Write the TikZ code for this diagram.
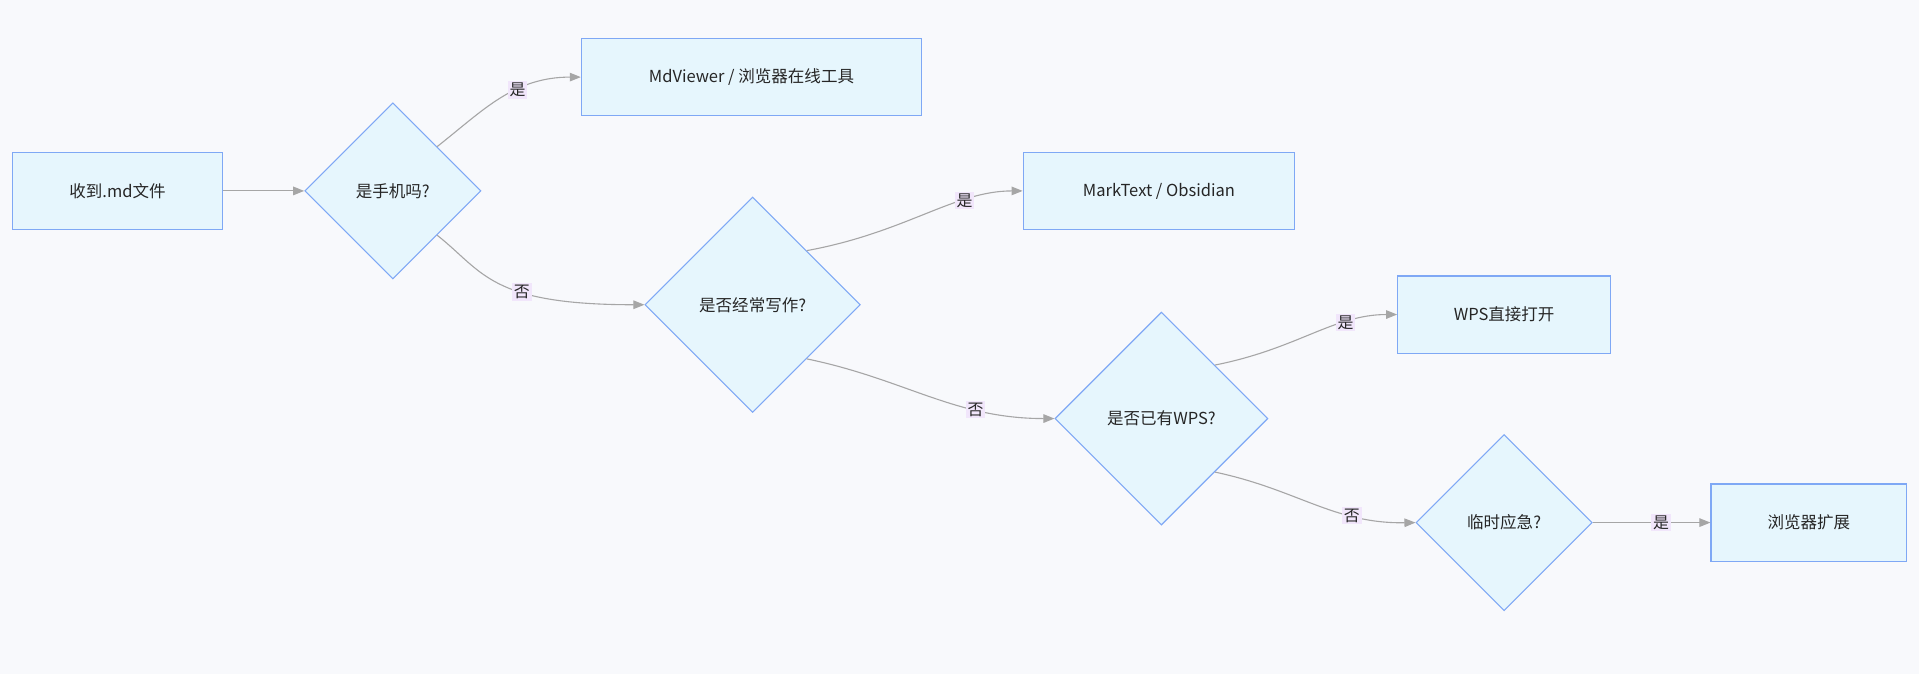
\documentclass[tikz,border=0pt]{standalone}
\usepackage{fontspec}
\setmainfont{Noto Sans CJK SC}
\usetikzlibrary{shapes.geometric,arrows.meta}
\definecolor{bg}{HTML}{F8F9FC}
\definecolor{nfill}{HTML}{E6F6FD}
\definecolor{nline}{HTML}{7FA8F5}
\definecolor{eline}{HTML}{A6A6A6}
\definecolor{lfill}{HTML}{F1E6FB}
\begin{document}
\begin{tikzpicture}[x=1pt,y=-1pt,
  every node/.style={font=\fontsize{13.5}{16}\selectfont, text=black!85},
  box/.style={draw=nline,fill=nfill,line width=0.9pt,rectangle,inner sep=0},
  dia/.style={draw=nline,fill=nfill,line width=0.9pt,diamond,aspect=1,inner sep=0},
  edge/.style={draw=eline,line width=0.9pt,-{Triangle[length=9pt,width=7pt,fill=eline]}},
  lbl/.style={fill=lfill,inner sep=1.5pt,font=\fontsize{13}{15}\selectfont}]
\fill[bg] (0,0) rectangle (1568,551);
\useasboundingbox (0,0) rectangle (1568,551);
\node[box,minimum width=172,minimum height=63] (a) at (96,156) {收到.md文件};
\node[dia,minimum size=144] (d1) at (321,156) {是手机吗?};
\node[box,minimum width=278,minimum height=63] (b) at (614,63) {MdViewer / 浏览器在线工具};
\node[dia,minimum size=176] (d2) at (615,249) {是否经常写作?};
\node[box,minimum width=222,minimum height=63] (c) at (947,156) {MarkText / Obsidian};
\node[dia,minimum size=174] (d3) at (949,342) {是否已有WPS?};
\node[box,minimum width=174,minimum height=63] (d) at (1229,257) {WPS直接打开};
\node[dia,minimum size=144] (d4) at (1229,427) {临时应急?};
\node[box,minimum width=160,minimum height=63] (e) at (1478,427) {浏览器扩展};
\draw[edge] (a) -- (d1);
\draw[edge] (d1.north east) .. controls (395,90) and (420,63) .. node[lbl,pos=0.62]{是} (b.west);
\draw[edge] (d1.south east) .. controls (395,222) and (400,249) .. node[lbl,pos=0.62]{否} (d2.west);
\draw[edge] (d2.north east) .. controls (740,190) and (780,156) .. node[lbl,pos=0.7]{是} (c.west);
\draw[edge] (d2.south east) .. controls (740,310) and (780,342) .. node[lbl,pos=0.7]{否} (d3.west);
\draw[edge] (d3.north east) .. controls (1060,285) and (1090,257) .. node[lbl,pos=0.7]{是} (d.west);
\draw[edge] (d3.south east) .. controls (1060,400) and (1090,428) .. node[lbl,pos=0.7]{否} (d4.west);
\draw[edge] (d4) -- node[lbl,pos=0.58]{是} (e);
\end{tikzpicture}
\end{document}
